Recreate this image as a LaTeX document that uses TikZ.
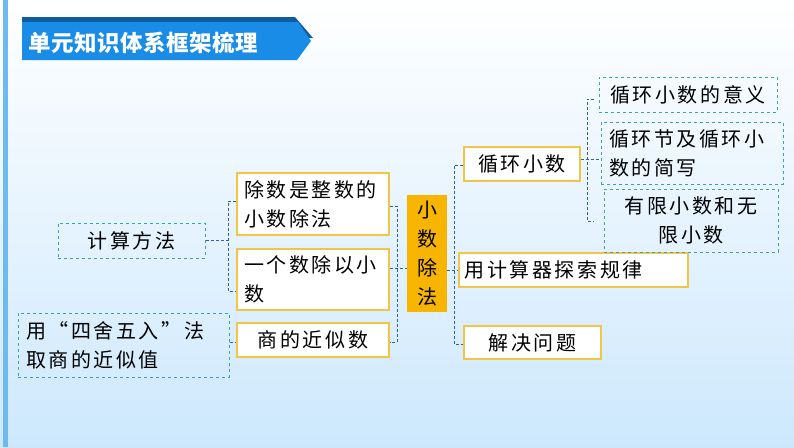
\documentclass[tikz,border=0pt]{standalone}
\usepackage{fontspec}
\setmainfont{Noto Sans CJK SC}
\usepackage{xcolor}
\definecolor{bannerblue}{RGB}{24,140,230}
\definecolor{bannerdark}{RGB}{16,92,160}
\definecolor{barblue}{RGB}{110,185,240}
\definecolor{bglight}{RGB}{205,232,253}
\definecolor{boxgold}{RGB}{244,196,70}
\definecolor{mainfill}{RGB}{247,181,0}
\definecolor{tealdash}{RGB}{58,160,192}
\definecolor{linkblue}{RGB}{47,95,168}

\begin{document}
\begin{tikzpicture}[x=1pt, y=-1pt,
    goldbox/.style={draw=boxgold, line width=1.4pt, fill=white, inner sep=0pt,
        font=\fontsize{20}{29}\selectfont\addfontfeature{LetterSpace=13}},
    tealbox/.style={draw=tealdash, dashed, line width=1pt, inner sep=0pt,
        font=\fontsize{20}{29}\selectfont\addfontfeature{LetterSpace=13}},
    link/.style={draw=linkblue, dashed, line width=0.8pt, dash pattern=on 3pt off 2pt}]
    \useasboundingbox (0,0) rectangle (794,447);

    % Background
    \shade[top color=white, bottom color=bglight] (0,0) rectangle (794,447);
    \fill[barblue] (3,0) rectangle (8,447);

    % Title banner
    \fill[bannerdark] (22,17) -- (295,17) -- (313,38) -- (300,38) -- (22,38) -- cycle;
    \fill[bannerblue] (22,22) -- (298,22) -- (311,41) -- (297,60) -- (22,60) -- cycle;
    \node[text=white, font=\bfseries\fontsize{22.5}{24}\selectfont\addfontfeature{LetterSpace=2}]
        (title) at (143,43) {单元知识体系框架梳理};

    % Centre node
    \node[fill=mainfill, minimum width=40pt, minimum height=117pt, inner sep=0pt,
        align=center, font=\fontsize{20}{29}\selectfont] (main) at (427,253.5)
        {小\\数\\除\\法};

    % Left side
    \node[goldbox, minimum width=152pt, minimum height=62pt, text width=138pt, align=left]
        (divA) at (313,204) {除数是整数的\\小数除法};
    \node[goldbox, minimum width=152pt, minimum height=61pt, text width=138pt, align=left]
        (divB) at (313,279.5) {一个数除以小\\数};
    \node[goldbox, minimum width=152pt, minimum height=34pt] (approx) at (313,340) {商的近似数};
    \node[tealbox, minimum width=147pt, minimum height=35pt] (calc) at (131.5,240.5) {计算方法};
    \node[tealbox, minimum width=211pt, minimum height=64pt, text width=195pt, align=left,
        font=\fontsize{20}{29}\selectfont\addfontfeature{LetterSpace=13,RawFeature=+fwid}]
        (round) at (123.5,345) {用“四舍五入”法\\取商的近似值};

    % Right side
    \node[goldbox, minimum width=116pt, minimum height=34pt] (rep) at (522,164) {循环小数};
    \node[goldbox, minimum width=229pt, minimum height=34pt, text width=218pt, align=left]
        (tool) at (573.5,270) {用计算器探索规律};
    \node[goldbox, minimum width=137pt, minimum height=33pt] (solve) at (532.5,342.5) {解决问题};
    \node[tealbox, minimum width=178pt, minimum height=35pt] (meaning) at (688,94.5) {循环小数的意义};
    \node[tealbox, minimum width=182pt, minimum height=62pt, text width=166pt, align=left]
        (notation) at (692,153) {循环节及循环小\\数的简写};
    \node[tealbox, minimum width=174pt, minimum height=63pt, align=center]
        (finite) at (691,220.5) {有限小数和无\\限小数};

    % Brackets left
    \draw[link] (calc.east) -- (228,240.5);
    \draw[link] (divA.west |- 0,201) -| (228,291) -- (divB.west |- 0,291);
    \draw[link] (round.east |- 0,342) -- (approx.west |- 0,342);
    \draw[link] (divA.east |- 0,206) -| (397,342) -- (approx.east |- 0,342);
    \draw[link] (divB.east |- 0,268) -- (main.west |- 0,268);

    % Brackets right
    \draw[link] (rep.west |- 0,165) -| (454,344) -- (solve.west |- 0,344);
    \draw[link] (main.east |- 0,270) -- (tool.west |- 0,270);
    \draw[link] (rep.east |- 0,159) -- (notation.west |- 0,159);
    \draw[link] (594,99) -| (587,221) -- (594,221);
\end{tikzpicture}
\end{document}
